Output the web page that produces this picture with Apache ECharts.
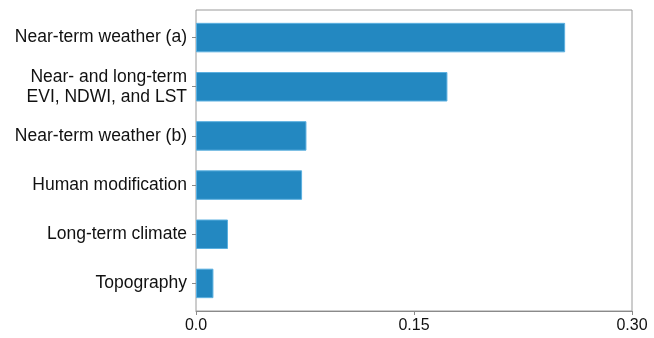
<!DOCTYPE html>
<html>
<head>
<meta charset="utf-8">
<script src="https://cdn.jsdelivr.net/npm/echarts@6/dist/echarts.min.js"></script>
<style>
  html, body { margin: 0; padding: 0; background: #fff; }
  #chart { width: 654px; height: 338px; }
</style>
</head>
<body>
<div id="chart"></div>
<script>
// categories listed bottom to top (ECharts category y axis starts at the bottom)
const categories = [
  'Topography',
  'Long-term climate',
  'Human modification',
  'Near-term weather (b)',
  'Near- and long-term\nEVI, NDWI, and LST',
  'Near-term weather (a)'
];
const importance = [0.012, 0.022, 0.073, 0.076, 0.173, 0.254];
const xTicks = [0, 0.15, 0.30];

const labelFont = 'Liberation Sans, Arial, sans-serif';
const gray = '#8a8a8a';

let chart = echarts.init(document.getElementById('chart'));
chart.setOption({
  animation: false,
  grid: [
    // bars: a little inset vertically, like matplotlib's margins
    { left: 196, right: 22, top: 13, bottom: 30 },
    // frame + x axis
    { left: 196, right: 22, top: 10, bottom: 27, show: true, borderColor: '#9a9a9a', borderWidth: 1 }
  ],
  xAxis: [
    { gridIndex: 0, type: 'value', min: 0, max: 0.30, interval: 0.15, show: false },
    {
      gridIndex: 1,
      type: 'value',
      min: 0,
      max: 0.30,
      interval: 0.15,
      axisLine: { show: true, lineStyle: { color: gray } },
      axisTick: { show: true, length: 4, lineStyle: { color: gray } },
      splitLine: { show: false },
      axisLabel: {
        color: '#111',
        fontFamily: labelFont,
        fontSize: 16,
        margin: 7,
        showMaxLabel: true,
        formatter: function (v) {
          let i = xTicks.findIndex(t => Math.abs(t - v) < 1e-9);
          return i === 0 ? '0.0' : v.toFixed(2);
        }
      }
    }
  ],
  yAxis: [
    {
      gridIndex: 0,
      type: 'category',
      data: categories,
      axisLine: { show: false },
      axisTick: { show: true, alignWithLabel: true, length: 4, lineStyle: { color: gray } },
      axisLabel: {
        color: '#111',
        fontFamily: labelFont,
        fontSize: 17.5,
        lineHeight: 20,
        margin: 9,
        align: 'right'
      }
    },
    { gridIndex: 1, type: 'value', show: false }
  ],
  series: [{
    type: 'bar',
    xAxisIndex: 0,
    yAxisIndex: 0,
    data: importance,
    barCategoryGap: '40%',
    itemStyle: { color: '#2388c1', borderColor: '#5cb0e0', borderWidth: 1 }
  }]
});
</script>
</body>
</html>
